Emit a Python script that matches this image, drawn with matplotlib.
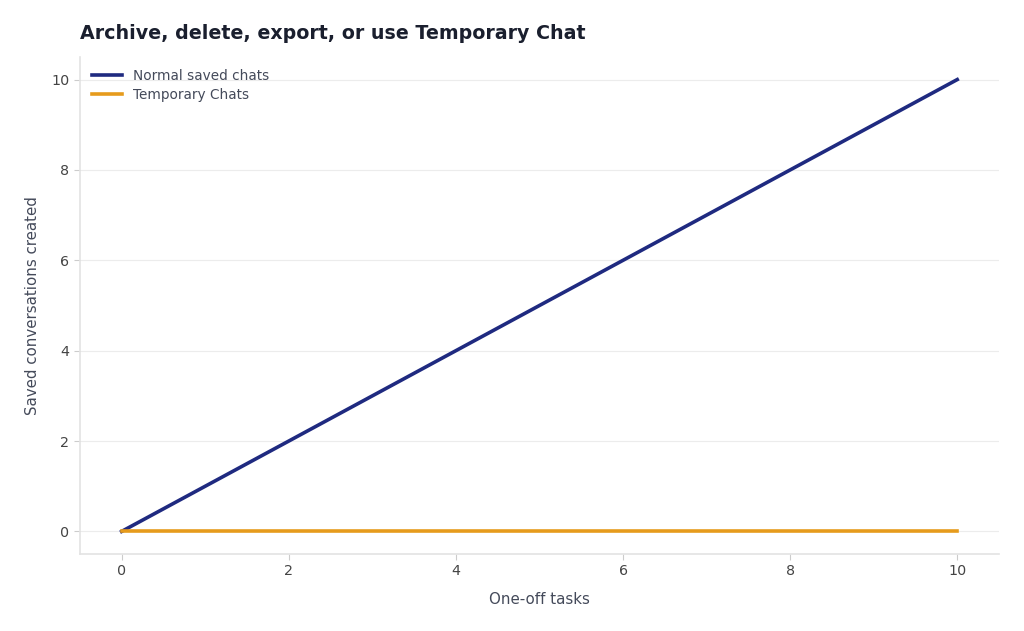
import numpy as np
import matplotlib
matplotlib.use("Agg")
import matplotlib.pyplot as plt

tasks = [0, 1, 2, 3, 4, 5, 6, 7, 8, 9, 10]
normal_saved = [0, 1, 2, 3, 4, 5, 6, 7, 8, 9, 10]
temporary = [0, 0, 0, 0, 0, 0, 0, 0, 0, 0, 0]

plt.rcParams['font.family'] = ['DejaVu Sans']
fig = plt.figure(figsize=(10.24, 6.31), dpi=100)
ax = fig.add_axes([0.078, 0.122, 0.8976, 0.7877])

ax.plot(tasks, normal_saved, color='#1f2a80', lw=2.6, label='Normal saved chats')
ax.plot(tasks, temporary, color='#e69b1c', lw=2.6, label='Temporary Chats')

ax.set_xlim(-0.5, 10.5)
ax.set_ylim(-0.5, 10.5)
ax.set_xticks([0, 2, 4, 6, 8, 10])
ax.set_yticks([0, 2, 4, 6, 8, 10])
ax.grid(axis='y', color='#ececec', lw=0.8)
ax.set_axisbelow(True)
for s in ['top', 'right']:
    ax.spines[s].set_visible(False)
for s in ['left', 'bottom']:
    ax.spines[s].set_color('#e3e3e3')
    ax.spines[s].set_linewidth(1.2)
ax.tick_params(colors='#cccccc', labelcolor='#444444', labelsize=10.3, length=4)

ax.set_xlabel('One-off tasks', fontsize=10.8, color='#444a5a', labelpad=10)
ax.set_ylabel('Saved conversations created', fontsize=10.8, color='#444a5a', labelpad=8)
ax.set_title('Archive, delete, export, or use Temporary Chat', loc='left',
             fontsize=13.7, fontweight='bold', color='#1a1f2e', pad=13)

leg = ax.legend(loc='upper left', frameon=False, fontsize=9.8, handlelength=2.2,
                borderaxespad=0.5, labelspacing=0.35)
for t in leg.get_texts():
    t.set_color('#444a5a')

fig.savefig('out.png', dpi=100)
